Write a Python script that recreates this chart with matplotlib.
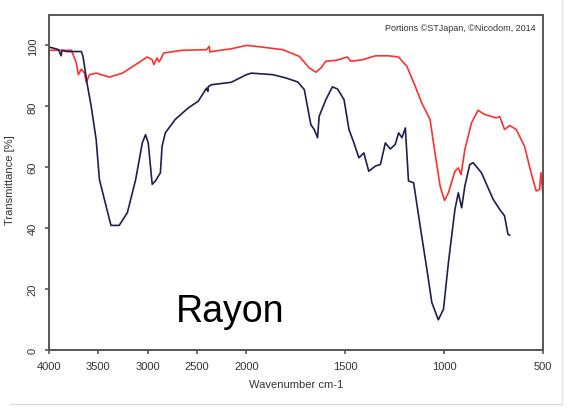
import numpy as np
import matplotlib.pyplot as plt
from matplotlib.lines import Line2D

plt.rcParams['font.family'] = ['Liberation Sans', 'DejaVu Sans']

# Rayon FTIR spectrum (wavenumber cm-1, transmittance %)
dark_wn = [4000, 3940, 3900, 3875, 3865, 3820, 3720, 3670, 3653, 3613, 3570, 3520,
           3487, 3420, 3370, 3287, 3204, 3120, 3053, 3020, 2993, 2953, 2920, 2870,
           2853, 2820, 2720, 2587, 2487, 2403, 2390, 2385, 2353, 2153, 2000, 1975,
           1866, 1799, 1740, 1707, 1674, 1657, 1640, 1632, 1598, 1565, 1539, 1506,
           1481, 1456, 1431, 1406, 1381, 1347, 1322, 1297, 1272, 1247, 1230, 1213,
           1196, 1180, 1154, 1121, 1087, 1062, 1029, 1003, 978, 945, 928, 911, 895,
           870, 853, 811, 752, 719, 694, 677, 668]
dark_t = [99.5, 99.0, 98.6, 96.6, 98.4, 98.0, 98.0, 98.0, 96.4, 87.7, 80.0, 69.1,
          56.0, 47.3, 40.9, 40.9, 45.1, 56.0, 68.0, 70.7, 68.0, 54.4, 55.5, 58.2,
          66.9, 71.3, 75.7, 79.5, 81.7, 86.0, 84.9, 86.5, 87.1, 87.9, 90.4, 90.9,
          90.4, 89.3, 88.0, 85.5, 74.0, 72.4, 69.7, 76.7, 82.2, 86.4, 85.7, 82.2,
          72.4, 68.0, 63.1, 64.7, 58.7, 60.4, 60.9, 68.0, 66.0, 67.5, 71.3, 69.7,
          72.9, 55.5, 54.9, 40.7, 26.5, 15.6, 9.9, 13.4, 28.7, 46.2, 51.6, 46.7,
          53.8, 60.9, 61.5, 58.2, 49.5, 46.2, 44.0, 38.0, 37.7]

red_wn = [4000, 3770, 3720, 3700, 3670, 3637, 3620, 3587, 3520, 3387, 3254, 3120,
          3004, 2953, 2937, 2904, 2885, 2870, 2837, 2654, 2404, 2375, 2370, 2354,
          2154, 2000, 1950, 1816, 1732, 1682, 1648, 1623, 1598, 1547, 1489, 1472,
          1413, 1347, 1280, 1230, 1188, 1146, 1113, 1071, 1046, 1020, 998, 978,
          945, 928, 914, 895, 861, 828, 794, 761, 736, 719, 694, 668, 635, 593,
          560, 534, 517, 510, 500]
red_t = [98.4, 98.4, 94.2, 90.4, 92.2, 90.9, 87.9, 90.4, 90.9, 89.6, 90.9, 93.7,
         96.2, 95.3, 93.7, 95.9, 94.6, 95.3, 97.5, 98.4, 98.6, 99.7, 97.8, 98.0,
         98.9, 100.0, 99.7, 98.6, 96.4, 92.6, 91.2, 92.6, 94.8, 95.1, 96.2, 94.8,
         95.3, 96.6, 96.6, 96.2, 93.1, 86.6, 81.1, 75.7, 64.7, 53.8, 49.1, 51.6,
         58.7, 59.8, 57.6, 65.8, 74.6, 78.7, 77.3, 76.7, 76.2, 76.7, 72.4, 73.7,
         72.4, 66.9, 58.2, 52.2, 52.7, 58.2, 51.0]

x_ticks = [4000, 3500, 3000, 2500, 2000, 1500, 1000, 500]
y_ticks = [0, 20, 40, 60, 80, 100]


# axis is compressed by half above 2000 cm-1
def fwd(w):
    w = np.asarray(w, dtype=float)
    return np.where(w > 2000, 2000 + (w - 2000) / 2, w)


def inv(t):
    t = np.asarray(t, dtype=float)
    return np.where(t > 2000, 2000 + (t - 2000) * 2, t)


fig = plt.figure(figsize=(5.73, 4.10), dpi=100)
ax = fig.add_axes([0.085, 0.144, 0.8625, 0.817])
ax.set_xscale('function', functions=(fwd, inv))

ax.plot(red_wn, red_t, color='#ff3030', lw=1.2)
ax.plot(dark_wn, dark_t, color='#1c1f4f', lw=1.2)

ax.set_xlim(4000, 500)
ax.set_ylim(0, 110)
ax.set_xticks(x_ticks)
ax.set_xticklabels([str(v) for v in x_ticks])
ax.set_yticks(y_ticks)
ax.set_yticklabels([str(v) for v in y_ticks], rotation=90, va='center')
ax.minorticks_off()

for s in ax.spines.values():
    s.set_color('#555555')
    s.set_linewidth(1.4)
ax.tick_params(direction='out', length=3, width=1.2, color='#555555',
               labelsize=8, labelcolor='#333333', pad=5)

ax.set_xlabel('Wavenumber cm-1', fontsize=8, color='#333333', labelpad=6)
fig.text(0.018, 0.56, 'Transmittance [%]', rotation=90, fontsize=8,
         color='#333333', ha='center', va='center')

ax.text(0.985, 0.975, 'Portions ©STJapan, ©Nicodom, 2014', transform=ax.transAxes,
        ha='right', va='top', fontsize=6.5, color='#333333')
ax.text(0.258, 0.085, 'Rayon', transform=ax.transAxes, fontsize=27,
        color='black', ha='left', va='baseline')

# faint frame of the original screenshot
fig.add_artist(Line2D([0.981, 0.981], [0.013, 1.0], transform=fig.transFigure,
                      color='#e4e4e4', lw=1))
fig.add_artist(Line2D([0.017, 0.981], [0.013, 0.013], transform=fig.transFigure,
                      color='#dddddd', lw=1))

fig.savefig('out.png', dpi=100)
